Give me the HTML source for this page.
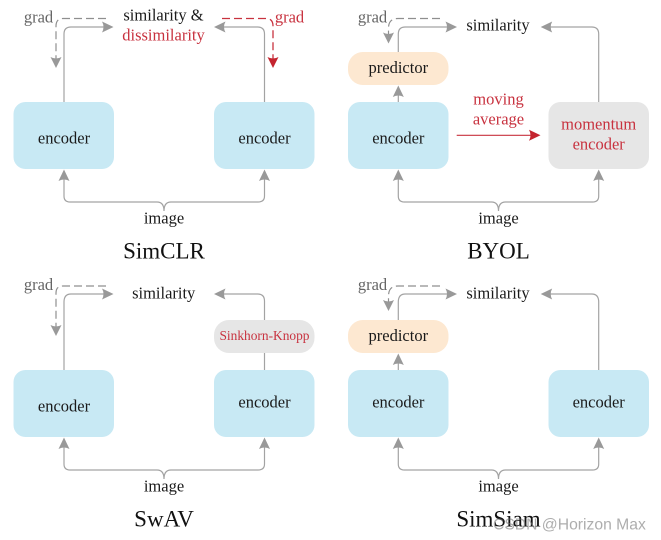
<!DOCTYPE html>
<html>
<head>
<meta charset="utf-8">
<style>
html,body{margin:0;padding:0;background:#fff;width:661px;height:540px;overflow:hidden}
svg{display:block;filter:blur(0.35px)}
text{font-family:"Liberation Serif",serif;text-anchor:middle;font-size:16.5px;fill:#1a1a1a}
.r{fill:#c8323f}
.g{fill:#666}
.t{font-size:23px;fill:#111}
.l{fill:none;stroke:#a3a3a3;stroke-width:1.2}
.d{fill:none;stroke:#8f8f8f;stroke-width:1.2;stroke-dasharray:8 4}
.dr{fill:none;stroke:#c8323f;stroke-width:1.3;stroke-dasharray:8 4}
.h{fill:#999}
.hr{fill:#c4242f}
.wm{font-family:"Liberation Sans",sans-serif;font-size:15.7px;fill:#777;fill-opacity:.6;text-anchor:start}
</style>
</head>
<body>
<svg width="661" height="540" viewBox="0 0 661 540" xmlns="http://www.w3.org/2000/svg">
<rect x="13.5" y="102" width="100.5" height="67" rx="12" fill="#c8e9f4"/>
<rect x="214" y="102" width="100.5" height="67" rx="12" fill="#c8e9f4"/>
<rect x="348" y="102" width="100.5" height="67" rx="12" fill="#c8e9f4"/>
<rect x="548.5" y="102" width="100.5" height="67" rx="12" fill="#e6e6e6"/>
<rect x="348" y="52" width="100.5" height="33" rx="15" fill="#fde8d1"/>
<rect x="13.5" y="370" width="100.5" height="67" rx="12" fill="#c8e9f4"/>
<rect x="214" y="370" width="100.5" height="67" rx="12" fill="#c8e9f4"/>
<rect x="348" y="370" width="100.5" height="67" rx="12" fill="#c8e9f4"/>
<rect x="548.5" y="370" width="100.5" height="67" rx="12" fill="#c8e9f4"/>
<rect x="348" y="320" width="100.5" height="33" rx="15" fill="#fde8d1"/>
<rect x="214" y="320" width="100.5" height="33" rx="15" fill="#e6e6e6"/>

<!-- SimCLR -->
<path class="l" d="M64 102V34Q64 27 71 27H105"/>
<path class="h" d="M113.500 27L102 21.500Q105 27 102 32.500Z"/>
<path class="l" d="M264.500 102V34Q264.500 27 257.500 27H222"/>
<path class="h" d="M214 27L225.500 21.500Q222.500 27 225.500 32.500Z"/>
<path class="d" d="M106 18.500H63Q56 18.500 56 26V60"/>
<path class="h" d="M56 68L50.500 57Q56 60 61.500 57Z"/>
<path class="dr" d="M222 18.500H266Q273 18.500 273 26V60"/>
<path class="hr" d="M273 68L267.500 57Q273 60 278.500 57Z"/>
<path class="l" d="M64 178V196Q64 202 70 202H157Q164 202 164 211Q164 202 171 202H258Q264.500 202 264.500 196V178"/>
<path class="h" d="M64 169.500L58.500 181Q64 178 69.500 181Z"/>
<path class="h" d="M264.500 169.500L259 181Q264.500 178 270 181Z"/>
<text x="163.500" y="20.700">similarity &amp;</text>
<text x="163.500" y="40.700" class="r">dissimilarity</text>
<text x="38.500" y="22.700" class="g">grad</text>
<text x="289.500" y="22.700" class="r">grad</text>
<text x="64" y="143.500">encoder</text>
<text x="264.500" y="143.500">encoder</text>
<text x="164" y="223.500">image</text>
<text x="164" y="258.500" class="t">SimCLR</text>

<!-- BYOL -->
<path class="l" d="M398.300 52V34Q398.300 27 405.300 27H449"/>
<path class="h" d="M457 27L445.500 21.500Q448.500 27 445.500 32.500Z"/>
<path class="l" d="M598.700 102V34Q598.700 27 591.700 27H549"/>
<path class="h" d="M540.700 27L552.200 21.500Q549.200 27 552.200 32.500Z"/>
<path class="d" d="M440 18.500H398Q388.500 18.500 388.500 28V36"/>
<path class="h" d="M388.500 43.500L383 32.500Q388.500 35.500 394 32.500Z"/>
<path class="l" d="M398.300 102V94"/>
<path class="h" d="M398.300 85.500L392.800 97Q398.300 94 403.800 97Z"/>
<path fill="none" stroke="#c8323f" stroke-width="1.1" d="M456.700 135.300H532"/>
<path class="hr" d="M540.500 135.300L529 129.800Q532 135.300 529 140.800Z"/>
<path class="l" d="M398.300 178V196Q398.300 202 404.300 202H491.500Q498.500 202 498.500 211Q498.500 202 505.500 202H592.700Q598.700 202 598.700 196V178"/>
<path class="h" d="M398.300 169.500L392.800 181Q398.300 178 403.800 181Z"/>
<path class="h" d="M598.700 169.500L593.200 181Q598.700 178 604.200 181Z"/>
<text x="498" y="30.700">similarity</text>
<text x="372.500" y="22.700" class="g">grad</text>
<text x="398.300" y="73">predictor</text>
<text x="398.300" y="143.500">encoder</text>
<text x="498.500" y="104.300" class="r">moving</text>
<text x="498.500" y="124.300" class="r">average</text>
<text x="598.700" y="129.500" class="r">momentum</text>
<text x="598.700" y="149.500" class="r">encoder</text>
<text x="498.500" y="223.500">image</text>
<text x="498.500" y="258.500" class="t">BYOL</text>

<!-- SwAV -->
<path class="l" d="M64 370V302Q64 294 71 294H105"/>
<path class="h" d="M113.500 294L102 288.500Q105 294 102 299.500Z"/>
<path class="l" d="M264.500 370V353M264.500 320V301Q264.500 294 257.500 294H222"/>
<path class="h" d="M214 294L225.500 288.500Q222.500 294 225.500 299.500Z"/>
<path class="d" d="M106 286H63Q56 286 56 293V328"/>
<path class="h" d="M56 336L50.500 325Q56 328 61.500 325Z"/>
<path class="l" d="M64 446V464Q64 470 70 470H157Q164 470 164 479Q164 470 171 470H258Q264.500 470 264.500 464V446"/>
<path class="h" d="M64 437.500L58.500 449Q64 446 69.500 449Z"/>
<path class="h" d="M264.500 437.500L259 449Q264.500 446 270 449Z"/>
<text x="163.700" y="298.700">similarity</text>
<text x="38.500" y="290.200" class="g">grad</text>
<text x="264.500" y="339.800" class="r" style="font-size:13.4px">Sinkhorn-Knopp</text>
<text x="64" y="411.500">encoder</text>
<text x="264.500" y="407.500">encoder</text>
<text x="164" y="491.500">image</text>
<text x="164" y="526.500" class="t">SwAV</text>

<!-- SimSiam -->
<path class="l" d="M398.300 320V302Q398.300 294 405.300 294H449"/>
<path class="h" d="M457 294L445.500 288.500Q448.500 294 445.500 299.500Z"/>
<path class="l" d="M598.700 370V302Q598.700 294 591.700 294H549"/>
<path class="h" d="M540.700 294L552.200 288.500Q549.200 294 552.200 299.500Z"/>
<path class="d" d="M440 286H398Q388.500 286 388.500 296V304"/>
<path class="h" d="M388.500 311L383 300Q388.500 303 394 300Z"/>
<path class="l" d="M398.300 370V362"/>
<path class="h" d="M398.300 353.500L392.800 365Q398.300 362 403.800 365Z"/>
<path class="l" d="M398.300 446V464Q398.300 470 404.300 470H491.500Q498.500 470 498.500 479Q498.500 470 505.500 470H592.700Q598.700 470 598.700 464V446"/>
<path class="h" d="M398.300 437.500L392.800 449Q398.300 446 403.800 449Z"/>
<path class="h" d="M598.700 437.500L593.200 449Q598.700 446 604.200 449Z"/>
<text x="498" y="298.700">similarity</text>
<text x="372.500" y="290.200" class="g">grad</text>
<text x="398.300" y="341">predictor</text>
<text x="398.300" y="407.500">encoder</text>
<text x="598.700" y="407.500">encoder</text>
<text x="498.500" y="491.500">image</text>
<text x="498.500" y="526.500" class="t">SimSiam</text>
<text x="493" y="529.500" class="wm">CSDN @Horizon Max</text>
</svg>
</body>
</html>
